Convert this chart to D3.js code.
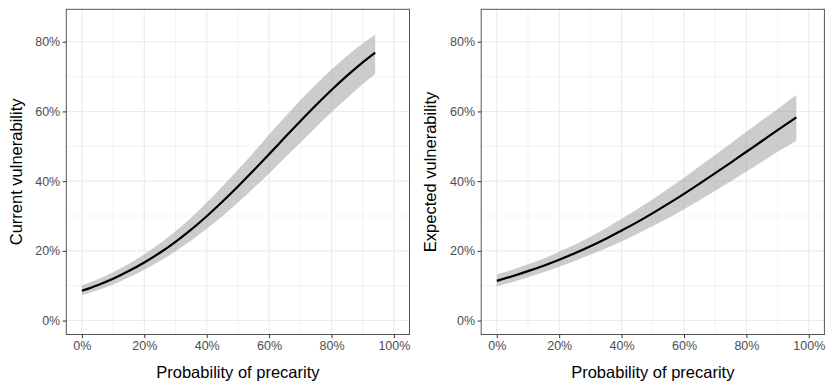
<!DOCTYPE html>
<html>
<head>
<meta charset="utf-8">
<script src="https://cdn.jsdelivr.net/npm/d3@7"></script>
<style>
  html, body { margin: 0; padding: 0; background: #fff; }
  svg { display: block; font-family: "Liberation Sans", Arial, sans-serif; }
</style>
</head>
<body>
<script>
// values (proportions)
const xCurrent = [0, 0.05, 0.10, 0.15, 0.20, 0.25, 0.30, 0.35, 0.40, 0.45, 0.50, 0.55, 0.60, 0.65, 0.70, 0.75, 0.80, 0.85, 0.90, 0.94];
const fitCurrent = [0.0855, 0.1015, 0.120, 0.142, 0.1666, 0.1946, 0.226, 0.261, 0.2994, 0.3407, 0.3846, 0.4305, 0.4775, 0.525, 0.572, 0.6177, 0.6615, 0.7027, 0.741, 0.769];
const lowCurrent = [0.0724, 0.0870, 0.1038, 0.1235, 0.1455, 0.1708, 0.1986, 0.2297, 0.2631, 0.2994, 0.3385, 0.3799, 0.4219, 0.4663, 0.510, 0.5548, 0.5975, 0.6387, 0.678, 0.7072];
const highCurrent = [0.1006, 0.1182, 0.1389, 0.1625, 0.190, 0.221, 0.2564, 0.2953, 0.3385, 0.3846, 0.4329, 0.4825, 0.5337, 0.583, 0.6318, 0.677, 0.720, 0.7595, 0.795, 0.8208];

const xExpected = [0, 0.05, 0.10, 0.15, 0.20, 0.25, 0.30, 0.35, 0.40, 0.45, 0.50, 0.55, 0.60, 0.65, 0.70, 0.75, 0.80, 0.85, 0.90, 0.96];
const fitExpected = [0.1140, 0.1272, 0.1418, 0.1575, 0.1747, 0.1932, 0.2133, 0.2349, 0.2581, 0.2825, 0.3083, 0.3354, 0.3636, 0.3929, 0.4228, 0.4533, 0.4843, 0.5152, 0.5464, 0.583];
const lowExpected = [0.0979, 0.1105, 0.124, 0.1386, 0.1541, 0.171, 0.1885, 0.2073, 0.2269, 0.2484, 0.2713, 0.2944, 0.3197, 0.3453, 0.3726, 0.3997, 0.4273, 0.4554, 0.484, 0.5162];
const highExpected = [0.1324, 0.146, 0.1618, 0.1784, 0.1974, 0.2177, 0.2405, 0.2648, 0.292, 0.3193, 0.348, 0.379, 0.4098, 0.4427, 0.4748, 0.5083, 0.5417, 0.5747, 0.6073, 0.6468];

const xTicks = [0, 0.2, 0.4, 0.6, 0.8, 1.0];
const xMinor = [0.1, 0.3, 0.5, 0.7, 0.9];
const yTicks = [0, 0.2, 0.4, 0.6, 0.8];
const yMinor = [0.1, 0.3, 0.5, 0.7];

const W = 826, H = 383;
const panelTop = 9.3, panelBottom = 334.5;

const svg = d3.select("body").append("svg")
  .attr("width", W)
  .attr("height", H);

const pct = d3.format(".0%");

function drawPanel(left, right, xs, fit, low, high, yTitle) {
  const x = d3.scaleLinear().domain([-0.05, 1.05]).range([left, right]);
  const y = d3.scaleLinear().domain([-0.04, 0.893]).range([panelBottom, panelTop]);

  const g = svg.append("g");

  // minor grid
  g.selectAll(".xminor").data(xMinor).enter().append("line")
    .attr("x1", d => x(d)).attr("x2", d => x(d))
    .attr("y1", panelTop).attr("y2", panelBottom)
    .attr("stroke", "#ebebeb").attr("stroke-width", 0.6);
  g.selectAll(".yminor").data(yMinor).enter().append("line")
    .attr("x1", left).attr("x2", right)
    .attr("y1", d => y(d)).attr("y2", d => y(d))
    .attr("stroke", "#ebebeb").attr("stroke-width", 0.6);

  // major grid
  g.selectAll(".xmajor").data(xTicks).enter().append("line")
    .attr("x1", d => x(d)).attr("x2", d => x(d))
    .attr("y1", panelTop).attr("y2", panelBottom)
    .attr("stroke", "#ebebeb").attr("stroke-width", 1.1);
  g.selectAll(".ymajor").data(yTicks).enter().append("line")
    .attr("x1", left).attr("x2", right)
    .attr("y1", d => y(d)).attr("y2", d => y(d))
    .attr("stroke", "#ebebeb").attr("stroke-width", 1.1);

  const pts = xs.map((v, i) => ({ x: v, fit: fit[i], low: low[i], high: high[i] }));

  const area = d3.area()
    .x(d => x(d.x))
    .y0(d => y(d.low))
    .y1(d => y(d.high))
    .curve(d3.curveMonotoneX);

  g.append("path")
    .datum(pts)
    .attr("d", area)
    .attr("fill", "#999999")
    .attr("fill-opacity", 0.5);

  const line = d3.line()
    .x(d => x(d.x))
    .y(d => y(d.fit))
    .curve(d3.curveMonotoneX);

  g.append("path")
    .datum(pts)
    .attr("d", line)
    .attr("fill", "none")
    .attr("stroke", "#000")
    .attr("stroke-width", 2.2);

  // panel border
  g.append("rect")
    .attr("x", left).attr("y", panelTop)
    .attr("width", right - left).attr("height", panelBottom - panelTop)
    .attr("fill", "none")
    .attr("stroke", "#555")
    .attr("stroke-width", 1);

  // axes
  const xAxis = d3.axisBottom(x).tickValues(xTicks).tickFormat(pct).tickSize(3.6).tickPadding(3);
  const yAxis = d3.axisLeft(y).tickValues(yTicks).tickFormat(pct).tickSize(3.6).tickPadding(2.5);

  const gx = g.append("g").attr("transform", `translate(0,${panelBottom})`).call(xAxis);
  const gy = g.append("g").attr("transform", `translate(${left},0)`).call(yAxis);

  [gx, gy].forEach(a => {
    a.select(".domain").remove();
    a.selectAll(".tick line").attr("stroke", "#333");
    a.selectAll(".tick text")
      .attr("fill", "#4d4d4d")
      .style("font-size", "12.5px")
      .style("font-family", '"Liberation Sans", Arial, sans-serif');
  });

  // titles
  g.append("text")
    .attr("x", (left + right) / 2)
    .attr("y", 377.5)
    .attr("text-anchor", "middle")
    .style("font-size", "16.5px")
    .attr("fill", "#000")
    .text("Probability of precarity");

  g.append("text")
    .attr("transform", `translate(${left - 44.8},${(panelTop + panelBottom) / 2}) rotate(-90)`)
    .attr("text-anchor", "middle")
    .style("font-size", "16.5px")
    .attr("fill", "#000")
    .text(yTitle);
}

drawPanel(66.3, 409.5, xCurrent, fitCurrent, lowCurrent, highCurrent, "Current vulnerability");
drawPanel(481.2, 824.4, xExpected, fitExpected, lowExpected, highExpected, "Expected vulnerability");
</script>
</body>
</html>
